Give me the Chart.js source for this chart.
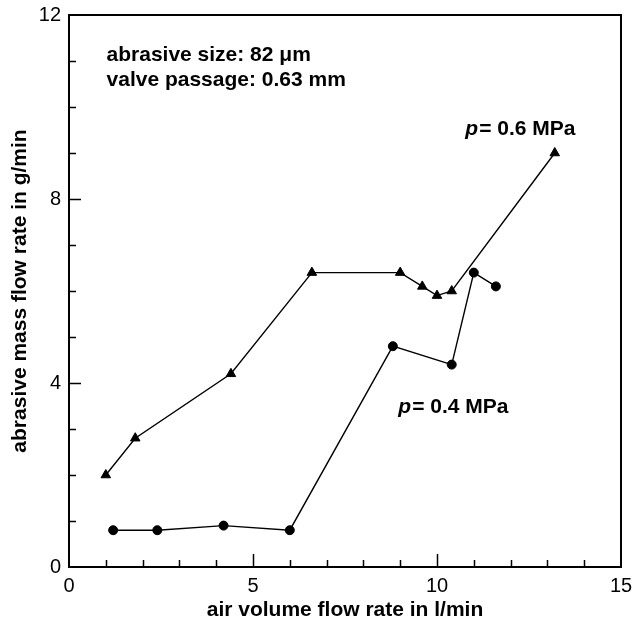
<!DOCTYPE html>
<html>
<head>
<meta charset="utf-8">
<script src="https://cdn.jsdelivr.net/npm/chart.js@4"></script>
<style>
  html, body { margin: 0; padding: 0; background: #fff; }
  #wrap { width: 633px; height: 628px; }
</style>
</head>
<body>
<div id="wrap"><canvas id="chart"></canvas></div>
<script>
// p = 0.6 MPa (triangles)
const airFlowHigh = [1.0, 1.8, 4.4, 6.6, 9.0, 9.6, 10.0, 10.4, 13.2]
const massFlowHigh = [2.0, 2.8, 4.2, 6.4, 6.4, 6.1, 5.9, 6.0, 9.0]
// p = 0.4 MPa (circles)
const airFlowLow = [1.2, 2.4, 4.2, 6.0, 8.8, 10.4, 11.0, 11.6]
const massFlowLow = [0.8, 0.8, 0.9, 0.8, 4.8, 4.4, 6.4, 6.1]

const xTicks = [0, 5, 10, 15]
const yTicks = [0, 4, 8, 12]
const seriesLabels = ['p = 0.6 MPa', 'p = 0.4 MPa']
const infoLines = ['abrasive size: 82 \u03bcm', 'valve passage: 0.63 mm']

const FONT = '"Liberation Sans", Helvetica, Arial, sans-serif'

const toPoints = (xs, ys) => xs.map((x, i) => ({ x: x, y: ys[i] }))

// frame, inward ticks and in-plot text
const decorations = {
    id: 'decorations',
    afterDraw(chart) {
        const ctx = chart.ctx
        const area = chart.chartArea
        const xs = chart.scales.x
        const ys = chart.scales.y
        ctx.save()
        ctx.strokeStyle = '#000'
        ctx.lineWidth = 2
        ctx.strokeRect(area.left, area.top, area.right - area.left, area.bottom - area.top)

        ctx.lineWidth = 1.5
        ctx.beginPath()
        for (let v = 1; v < 15; v++) {
            const px = Math.round(xs.getPixelForValue(v)) + 0.5
            const len = v % 5 === 0 ? 13 : 7
            ctx.moveTo(px, area.bottom)
            ctx.lineTo(px, area.bottom - len)
        }
        for (let v = 1; v < 12; v++) {
            const py = Math.round(ys.getPixelForValue(v)) + 0.5
            const len = v % 4 === 0 ? 12 : 7
            ctx.moveTo(area.left, py)
            ctx.lineTo(area.left + len, py)
        }
        ctx.stroke()

        ctx.fillStyle = '#000'
        ctx.textBaseline = 'middle'
        ctx.textAlign = 'left'
        ctx.font = 'bold 21px ' + FONT
        ctx.fillText(infoLines[0], xs.getPixelForValue(1.02), ys.getPixelForValue(11.13))
        ctx.fillText(infoLines[1], xs.getPixelForValue(1.02), ys.getPixelForValue(10.59))

        const drawPLabel = (text, x, y) => {
            let px = xs.getPixelForValue(x)
            const py = ys.getPixelForValue(y)
            ctx.font = 'italic bold 21px ' + FONT
            ctx.fillText('p', px, py)
            px += ctx.measureText('p').width + 1
            ctx.font = 'bold 21px ' + FONT
            ctx.fillText(text.slice(1).replace(' = ', '= '), px, py)
        }
        drawPLabel(seriesLabels[0], 10.77, 9.52)
        drawPLabel(seriesLabels[1], 8.95, 3.48)
        ctx.restore()
    }
}

new Chart(document.getElementById('chart'), {
    type: 'scatter',
    data: {
        datasets: [
            {
                label: seriesLabels[0],
                data: toPoints(airFlowHigh, massFlowHigh),
                showLine: true,
                borderColor: '#000',
                backgroundColor: '#000',
                borderWidth: 1.4,
                pointStyle: 'triangle',
                pointRadius: 5.5,
                pointBorderWidth: 1
            },
            {
                label: seriesLabels[1],
                data: toPoints(airFlowLow, massFlowLow),
                showLine: true,
                borderColor: '#000',
                backgroundColor: '#000',
                borderWidth: 1.4,
                pointStyle: 'circle',
                pointRadius: 4.5,
                pointBorderWidth: 1
            }
        ]
    },
    options: {
        responsive: true,
        maintainAspectRatio: false,
        animation: false,
        layout: { padding: { top: 15, right: 12, left: 0, bottom: 0 } },
        plugins: {
            legend: { display: false },
            tooltip: { enabled: false }
        },
        scales: {
            x: {
                type: 'linear',
                min: 0,
                max: 15,
                afterBuildTicks: (scale) => { scale.ticks = xTicks.map(v => ({ value: v })) },
                afterFit: (scale) => {
                    scale.height = 61
                    scale.paddingLeft = 0
                    scale.paddingRight = 0
                },
                grid: { display: false, drawTicks: false },
                border: { display: false },
                ticks: {
                    color: '#000',
                    padding: 7,
                    maxRotation: 0,
                    font: { family: FONT, size: 20 }
                },
                title: {
                    display: true,
                    text: 'air volume flow rate in l/min',
                    color: '#000',
                    padding: { top: 0, bottom: 5 },
                    font: { family: FONT, size: 21, weight: 'bold' }
                }
            },
            y: {
                type: 'linear',
                min: 0,
                max: 12,
                afterBuildTicks: (scale) => { scale.ticks = yTicks.map(v => ({ value: v })) },
                afterFit: (scale) => {
                    scale.width = 69
                    scale.paddingTop = 0
                    scale.paddingBottom = 0
                },
                grid: { display: false, drawTicks: false },
                border: { display: false },
                ticks: {
                    color: '#000',
                    padding: 8,
                    font: { family: FONT, size: 20 }
                },
                title: {
                    display: true,
                    text: 'abrasive mass flow rate in g/min',
                    color: '#000',
                    padding: { top: 8, bottom: 0 },
                    font: { family: FONT, size: 21, weight: 'bold' }
                }
            }
        }
    },
    plugins: [decorations]
})
</script>
</body>
</html>
